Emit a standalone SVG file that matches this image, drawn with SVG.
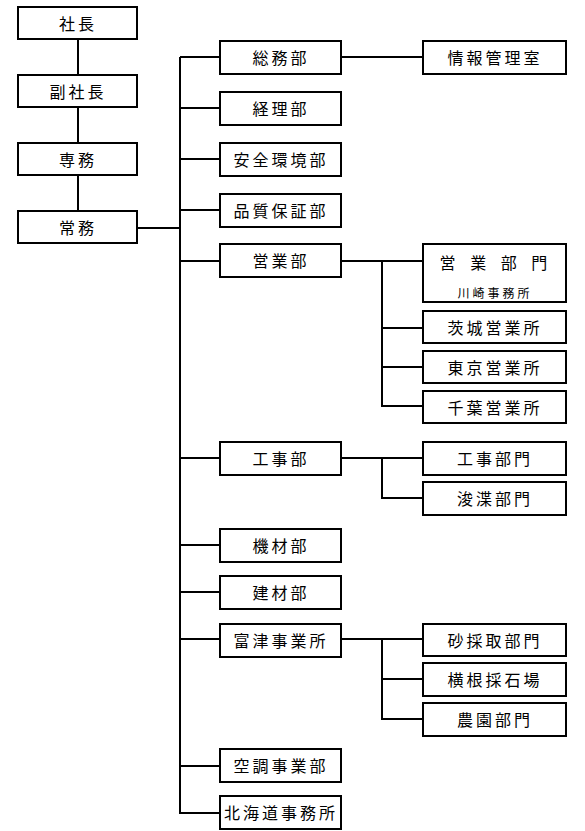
<svg xmlns="http://www.w3.org/2000/svg" width="585" height="831" viewBox="0 0 585 831">
<style>
rect{fill:#fff;stroke:#000;stroke-width:2}
text{font-family:"Noto Sans CJK JP","Noto Sans CJK SC",sans-serif;font-size:16px;fill:#000;text-anchor:middle;dominant-baseline:central;letter-spacing:3px}
.sm{font-size:12px;letter-spacing:3px}
#connectors path{fill:none;stroke:#000;stroke-width:2}
</style>
<rect x="0" y="0" width="585" height="831" style="stroke:none;fill:#fff"/>
<g id="connectors">
<path d="M78 39V211M137 228H180M180 57V814"/>
<path d="M180 57H220M180 108H220M180 159H220M180 210H220M180 261H220M180 458H220M180 545H220M180 592H220M180 639H220M180 766H220M180 813H220"/>
<path d="M341 57H423"/>
<path d="M341 261H423M382 261V407M381 328H423M381 367H423M381 406H423"/>
<path d="M341 458H423M382 458V499M381 498H423"/>
<path d="M341 639H423M382 639V720M381 679H423M381 719H423"/>
</g>
<g id="n_shacho"><rect x="18" y="7" width="119" height="32"/><text x="78" y="23">社長</text></g>
<g id="n_fukushacho"><rect x="18" y="75" width="119" height="32"/><text x="78" y="91">副社長</text></g>
<g id="n_senmu"><rect x="18" y="143" width="119" height="32"/><text x="78" y="159">専務</text></g>
<g id="n_jomu"><rect x="18" y="211" width="119" height="32"/><text x="78" y="227">常務</text></g>

<g id="n_somu"><rect x="220" y="41" width="121" height="33"/><text x="281" y="57">総務部</text></g>
<g id="n_keiri"><rect x="220" y="92" width="121" height="33"/><text x="281" y="108">経理部</text></g>
<g id="n_anzen"><rect x="220" y="143" width="121" height="33"/><text x="281" y="159">安全環境部</text></g>
<g id="n_hinshitsu"><rect x="220" y="194" width="121" height="33"/><text x="281" y="210">品質保証部</text></g>
<g id="n_eigyo"><rect x="220" y="244" width="121" height="33"/><text x="281" y="260">営業部</text></g>
<g id="n_koji"><rect x="220" y="442" width="121" height="33"/><text x="281" y="458">工事部</text></g>
<g id="n_kizai"><rect x="220" y="529" width="121" height="33"/><text x="281" y="545">機材部</text></g>
<g id="n_kenzai"><rect x="220" y="576" width="121" height="33"/><text x="281" y="592">建材部</text></g>
<g id="n_futtsu"><rect x="220" y="624" width="121" height="33"/><text x="281" y="640">富津事業所</text></g>
<g id="n_kucho"><rect x="220" y="749" width="121" height="33"/><text x="281" y="765">空調事業部</text></g>
<g id="n_hokkaido"><rect x="220" y="796" width="121" height="33"/><text x="281" y="812">北海道事務所</text></g>

<g id="n_joho"><rect x="423" y="41" width="143" height="33"/><text x="495" y="57">情報管理室</text></g>
<g id="n_eigyobumon"><rect x="423" y="244" width="143" height="58"/><text x="495" y="262" style="word-spacing:5px">営 業 部 門</text><text class="sm" x="495" y="292">川崎事務所</text></g>
<g id="n_ibaraki"><rect x="423" y="311" width="143" height="32"/><text x="495" y="327">茨城営業所</text></g>
<g id="n_tokyo"><rect x="423" y="351" width="143" height="32"/><text x="495" y="367">東京営業所</text></g>
<g id="n_chiba"><rect x="423" y="391" width="143" height="32"/><text x="495" y="407">千葉営業所</text></g>
<g id="n_kojibumon"><rect x="423" y="442" width="143" height="33"/><text x="495" y="458">工事部門</text></g>
<g id="n_shunsetsu"><rect x="423" y="482" width="143" height="33"/><text x="495" y="498">浚渫部門</text></g>
<g id="n_suna"><rect x="423" y="624" width="143" height="32"/><text x="495" y="640">砂採取部門</text></g>
<g id="n_yokone"><rect x="423" y="663" width="143" height="33"/><text x="495" y="679">横根採石場</text></g>
<g id="n_noen"><rect x="423" y="703" width="143" height="33"/><text x="495" y="719">農園部門</text></g>
</svg>
